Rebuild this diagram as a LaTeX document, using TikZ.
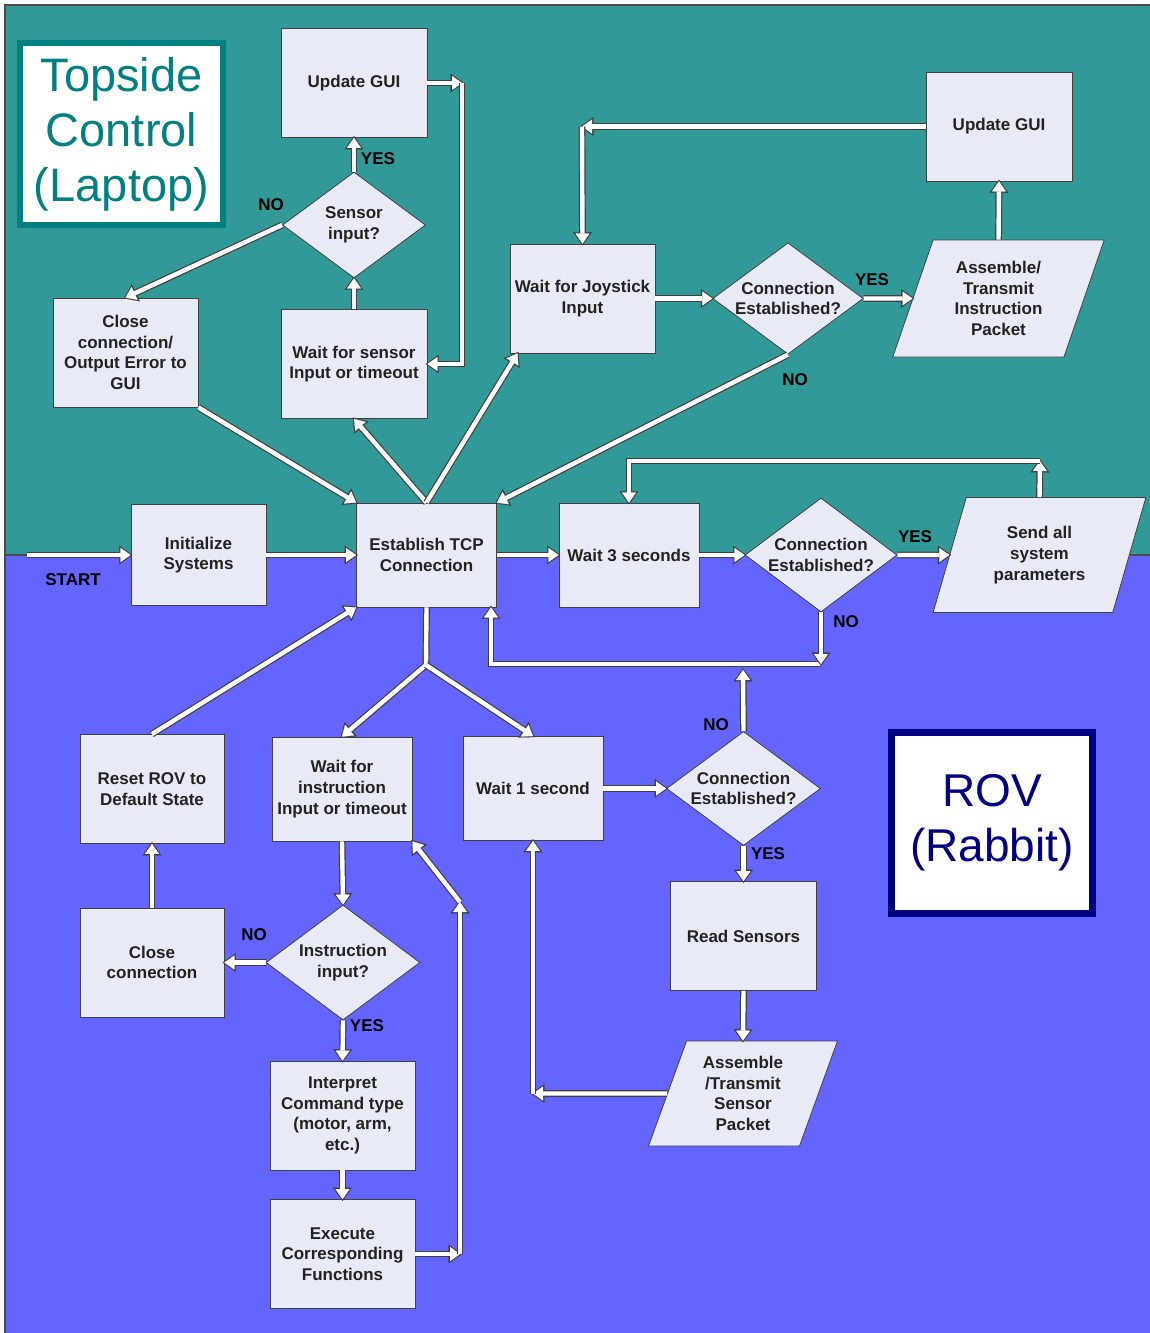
\documentclass[tikz,border=0pt]{standalone}
\usepackage{fontspec}
\setmainfont{Liberation Sans}
\usetikzlibrary{shapes.geometric,arrows.meta}
\definecolor{topsea}{HTML}{319A99}
\definecolor{rovsea}{HTML}{6464FF}
\definecolor{boxfill}{HTML}{E8EBF5}
\definecolor{tealtext}{HTML}{008080}
\definecolor{navy}{HTML}{000080}
\definecolor{ink}{HTML}{222222}
\newcommand\flowfont{\fontsize{8.5}{10.3}\selectfont\bfseries}

\begin{document}
\begin{tikzpicture}[x=0.5pt, y=-0.5pt,
	box/.style = {shape=rectangle, draw=black!75, fill=boxfill, align=center, text=ink, font=\flowfont, minimum width=73pt, minimum height=54.5pt, inner sep=1pt},
	narrow/.style = {box, minimum width=70pt, minimum height=52pt},
	decision/.style = {shape=diamond, draw=black!75, fill=boxfill, align=center, text=ink, font=\flowfont, aspect=1.35, inner sep=0pt, minimum width=77pt, minimum height=57pt},
	io/.style = {shape=trapezium, trapezium left angle=70, trapezium right angle=110, trapezium stretches=true, draw=black!75, fill=boxfill, align=center, text=ink, font=\flowfont, inner sep=0pt, minimum width=106.5pt, minimum height=58.5pt},
	flow/.style = {draw=white, line width=2.2pt, -{Triangle[width=7pt, length=5pt, line width=0.1pt]}, preaction={draw=black!75, line width=3.4pt, shorten >=-0.9pt, -{Triangle[width=9.4pt, length=6.6pt, line width=0.1pt]}}},
	tag/.style = {font=\flowfont, text=black, inner sep=0pt}]
	\useasboundingbox (0,0) rectangle (1150,1333);
	% the two sides
	\fill[white] (0,0) rectangle (1150,1333);
	\fill[topsea] (5,5) rectangle (1150,555);
	\fill[rovsea] (5,555) rectangle (1150,1333);
	\draw[black!70, line width=0.8pt] (5,1333) -- (5,5) -- (1150,5);
	\draw[black!70, line width=0.6pt] (5,555) -- (1150,555);
	\node[draw=tealtext, line width=3pt, fill=white, text=tealtext, minimum width=101.5pt, minimum height=91pt, align=center, font=\fontsize{23.5}{27.5}\selectfont] (topside) at (121.5,134) {Topside\\Control\\(Laptop)};
	\node[draw=navy, line width=3.5pt, fill=white, text=navy, minimum width=100.5pt, minimum height=90.5pt, align=center, font=\fontsize{23}{27.5}\selectfont] (rov) at (992,823) {ROV\\(Rabbit)};
	% topside
	\node[box] (gui) at (354,83) {Update GUI};
	\node[decision, minimum width=71.5pt, minimum height=53pt] (sensq) at (354,225) {Sensor\\input?};
	\node[box] (sensw) at (354,364) {Wait for sensor\\Input or timeout};
	\node[box, minimum width=72.5pt] (closeerr) at (125.5,352.5) {Close\\connection/\\Output Error to\\GUI};
	\node[box, minimum width=67.5pt, minimum height=50.5pt] (init) at (198.5,555) {Initialize\\Systems};
	\node[narrow] (tcp) at (426.5,555) {Establish TCP\\Connection};
	\node[box, minimum width=72.5pt] (joy) at (582.5,298.5) {Wait for Joystick\\Input};
	\node[decision, minimum width=72pt, minimum height=53.5pt] (joyq) at (788,298.5) {Connection\\Established?};
	\node[io] (instr) at (998.5,298.5) {Assemble/\\Transmit\\Instruction\\Packet};
	\node[box] (gui2) at (999,126.5) {Update GUI};
	\node[narrow] (wait3) at (629,555) {Wait 3 seconds};
	\node[decision, minimum width=76pt, minimum height=57pt] (linkq) at (821,555) {Connection\\Established?};
	\node[io, minimum height=57.5pt] (params) at (1039.5,555) {Send all\\system\\parameters};
	% rov
	\node[narrow] (wait1) at (533,788.5) {Wait 1 second};
	\node[decision] (rovq) at (743.5,788.5) {Connection\\Established?};
	\node[box] (sense) at (743.5,936) {Read Sensors};
	\node[io, minimum width=95pt, minimum height=52.5pt] (sensp) at (743,1093.5) {Assemble\\/Transmit\\Sensor\\Packet};
	\node[box, minimum width=72pt] (reset) at (152,789) {Reset ROV to\\Default State};
	\node[narrow] (instw) at (342,789) {Wait for\\instruction\\Input or timeout};
	\node[box, minimum width=72pt] (close) at (152,962.5) {Close\\connection};
	\node[decision, minimum height=57.5pt] (instq) at (343,962.5) {Instruction\\input?};
	\node[box, minimum width=72.5pt] (interp) at (342.5,1115.5) {Interpret\\Command type\\(motor, arm,\\etc.)};
	\node[box, minimum width=72.5pt] (exec) at (342.5,1254) {Execute\\Corresponding\\Functions};
	% corners
	\coordinate (start) at (27,555);
	\coordinate (sendup) at (1040,461);
	\coordinate (noloop) at (821,664);
	\coordinate (backup) at (491,664);
	\coordinate (rovno) at (743,670);
	\coordinate (split) at (426,665);
	\coordinate (exright) at (460,1254);
	\coordinate (exup) at (460,902);
	\coordinate (pktleft) at (533,1093.5);
	\coordinate (guiright) at (462,83);
	\coordinate (guileft) at (582,126.5);
	% main line
	\draw[flow] (start) -- (init.west);
	\draw[flow] (init.east) -- (tcp.west);
	\draw[flow] (tcp.east) -- (wait3.west);
	\draw[flow] (wait3.east) -- (linkq.west);
	\draw[flow] (linkq.east) -- (params.west);
	\draw[flow] (params.north) -- (sendup);
	\draw[flow] (sendup) -| (wait3.north);
	\draw[flow] (noloop) -- (backup) -- (backup |- tcp.south);
	\draw[flow] (linkq.south) -- (noloop);
	\draw[flow] (rovq.north) -- (rovno);
	% rov side
	\draw[flow] (tcp.south) -- (split) -- (instw.north);
	\draw[flow] (split) -- (wait1.north);
	\draw[flow] (reset.north) -- (tcp.south west);
	\draw[flow] (close.north) -- (reset.south);
	\draw[flow] (instq.west) -- (close.east);
	\draw[flow] (instw.south) -- (instq.north);
	\draw[flow] (instq.south) -- (interp.north);
	\draw[flow] (interp.south) -- (exec.north);
	\draw[flow] (exec.east) -- (exright);
	\draw[flow] (exright) -- (exup);
	\draw[flow] (exup) -- (instw.south east);
	\draw[flow] (wait1.east) -- (rovq.west);
	\draw[flow] (rovq.south) -- (sense.north);
	\draw[flow] (sense.south) -- (sensp.north);
	\draw[flow] (sensp.west) -- (pktleft);
	\draw[flow] (pktleft) -- (wait1.south);
	% topside
	\draw[flow] (tcp.north) -- (sensw.south);
	\draw[flow] (tcp.north) -- ([xshift=4pt]joy.south west);
	\draw[flow] (closeerr.south east) -- (tcp.north west);
	\draw[flow] (joyq.south) -- (tcp.north east);
	\draw[flow] (sensw.north) -- (sensq.south);
	\draw[flow] (sensq.north) -- (gui.south);
	\draw[flow] (sensq.west) -- (closeerr.north);
	\draw[flow] (gui.east) -- (guiright);
	\draw[flow] (guiright) |- (sensw.east);
	\draw[flow] (joy.east) -- (joyq.west);
	\draw[flow] (joyq.east) -- (instr.west);
	\draw[flow] (instr.north) -- (gui2.south);
	\draw[flow] (gui2.west) -- (guileft);
	\draw[flow] (guileft) -- (joy.north);
	% labels
	\node[tag] (startlbl) at (73,580) {START};
	\node[tag] (sensyes) at (378,159) {YES};
	\node[tag] (sensno) at (271,205) {NO};
	\node[tag] (joyyes) at (872,280) {YES};
	\node[tag] (joyno) at (795,380) {NO};
	\node[tag] (linkyes) at (915,537) {YES};
	\node[tag] (linkno) at (846,622) {NO};
	\node[tag] (rovnolbl) at (716,725) {NO};
	\node[tag] (rovyes) at (768,854) {YES};
	\node[tag] (instno) at (254,935) {NO};
	\node[tag] (instyes) at (367,1026) {YES};
\end{tikzpicture}
\end{document}
